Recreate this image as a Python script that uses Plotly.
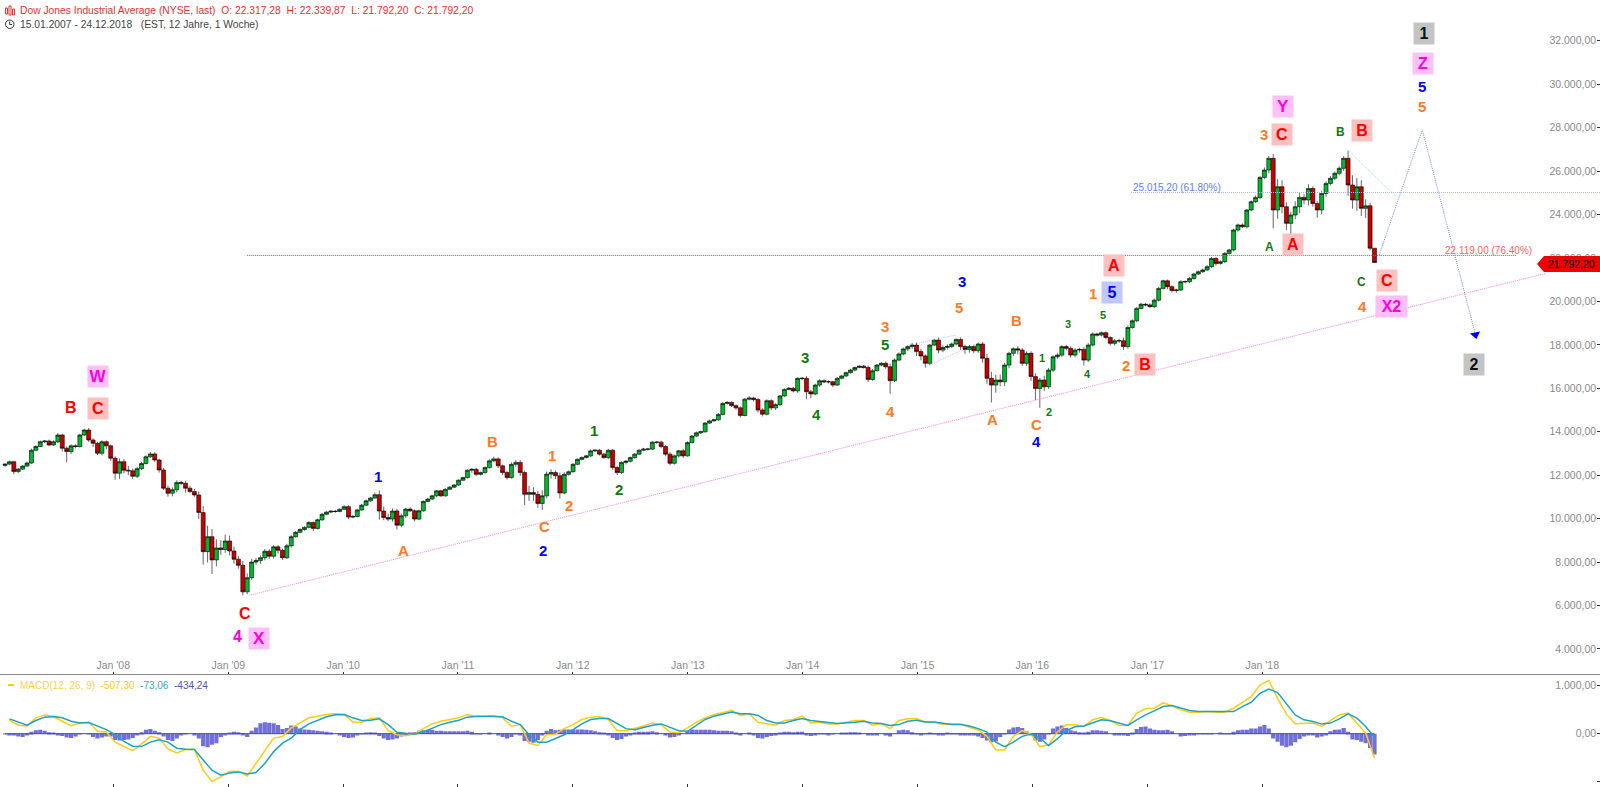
import pandas as pd
import plotly.graph_objects as go

# Dow Jones, one row per year, one candle every two weeks
closes = [
    12510,12620,12165,12280,12420,12560,13150,13320,13540,13570,13390,13540,13850,13240,13090,13350,13320,13850,14080,13620,13470,13010,13540,13350,12780,12090,
    12620,12230,12200,11950,12300,12540,12850,12980,12700,12240,11400,11170,11330,11660,11630,11400,11250,11090,10280,8480,9170,8100,8650,8580,8970,8510,
    8130,7850,6630,7280,8000,8070,8200,8500,8270,8700,8540,8200,8750,9170,9370,9500,9600,9820,9550,9950,10200,10300,10340,10330,10430,10550,
    10070,10100,10400,10620,10820,10950,11100,10350,10050,9980,10350,9700,10130,10440,10360,9980,10360,10790,10900,11050,11280,11050,11350,11450,11550,11770,
    11890,12230,12270,12040,12120,12350,12660,12750,12430,12120,11890,12500,12590,12120,11120,11200,11120,10700,11050,12050,12120,11970,11180,12040,12160,12500,
    12730,12810,12890,13120,13150,12970,12810,13150,12350,12120,12590,12640,12810,12970,13150,13200,13200,13520,13520,13320,12970,12550,12890,13120,12890,13500,
    13800,13950,14000,14400,14500,14550,14800,15300,15350,15200,15100,14750,15500,15550,15480,15000,14810,15430,15100,15250,15650,15950,16000,15880,16460,16460,
    15840,15740,16150,16350,16300,16300,16150,16460,16570,16720,16840,16960,17020,16960,16410,16810,17070,17150,16990,16350,17300,17580,17810,17920,17990,17690,
    17490,17150,17990,18220,17760,17880,17930,18040,18250,17920,17790,17920,17730,18040,17380,16460,16150,16380,16300,17070,17610,17820,17760,17150,17610,16540,
    15990,16380,16070,16840,17450,17530,17920,17840,17530,17760,17790,17300,17990,18500,18450,18560,18340,18070,18190,18190,17920,18800,19110,19680,19870,19840,
    19760,20060,20600,20950,20680,20500,20525,20910,20910,21060,21260,21370,21450,21600,21980,21750,21830,22210,22370,23290,23520,23440,24210,24590,24790,25710,
    26050,26590,24210,25280,24360,23595,23980,24360,24790,24670,25200,24510,24210,24970,25435,25670,25900,26130,26590,25360,24670,25280,24285,24400,22450,21792,
]
# how far the wicks stick out of the body
upper_wicks = [
    40,50,30,50,40,60,70,60,60,50,70,60,90,60,90,70,80,60,60,90,80,70,70,60,60,90,
    150,120,200,100,80,70,70,90,80,60,100,120,110,100,90,120,110,120,160,300,500,350,400,350,300,250,
    200,150,200,200,150,120,100,100,90,90,80,80,90,70,60,60,50,60,50,50,60,40,50,60,50,70,
    60,70,50,60,60,50,100,200,200,180,120,100,100,60,80,70,50,50,60,50,40,50,50,40,40,40,
    40,50,50,60,50,60,70,100,70,60,80,90,100,100,100,300,250,150,250,120,150,100,150,100,60,60,
    40,50,40,60,50,60,50,60,60,70,50,60,50,50,40,60,60,60,50,70,60,90,60,50,100,60,
    50,60,50,50,60,50,60,70,60,50,60,70,60,80,60,70,80,60,60,60,40,50,60,70,50,50,
    100,80,60,70,50,60,50,60,50,50,60,40,40,60,90,70,50,60,90,150,80,70,70,70,100,120,
    120,80,60,60,120,90,100,70,50,90,100,80,90,70,90,200,300,250,250,100,80,70,120,100,90,100,
    150,100,200,100,70,80,60,80,100,80,80,100,90,70,60,60,60,60,80,90,150,90,70,60,60,50,
    70,70,60,50,60,60,60,60,50,60,60,60,60,70,60,60,60,60,50,60,60,70,50,60,90,60,
    120,100,200,350,300,200,150,250,200,150,200,100,100,100,80,100,80,100,100,350,450,400,300,300,150,0,
]
lower_wicks = [
    60,40,120,60,40,50,40,50,30,60,50,40,60,150,500,120,80,50,50,90,180,90,100,150,120,300,
    260,150,200,120,80,60,50,60,90,120,80,160,140,120,90,200,70,80,300,600,500,650,300,250,150,200,
    200,150,160,100,100,120,150,120,120,100,150,100,60,80,50,50,60,50,120,50,60,50,50,60,40,40,
    90,60,50,40,40,50,40,400,120,100,120,200,100,90,60,110,50,40,40,40,60,50,40,30,40,40,
    40,50,120,80,60,50,40,60,100,110,90,50,100,150,500,300,300,200,300,120,200,150,250,70,60,40,
    40,50,40,60,50,70,60,70,100,110,60,100,60,50,40,50,60,40,70,80,100,90,60,80,100,40,
    40,50,60,40,50,40,50,50,40,60,90,100,40,60,90,120,100,60,110,100,70,40,50,70,90,90,
    350,200,60,90,70,80,100,40,50,50,40,60,40,60,120,60,40,60,90,600,60,60,60,90,100,200,
    200,200,80,50,150,100,100,80,60,150,200,150,120,100,200,250,800,350,200,200,150,120,200,120,120,200,
    530,890,200,100,100,90,80,100,120,100,120,250,90,60,70,60,90,100,100,100,150,100,60,70,50,60,
    60,60,70,50,120,90,100,60,80,70,60,50,60,50,60,100,60,60,50,70,80,60,80,60,60,80,
    80,150,850,400,300,300,500,200,300,200,250,150,350,200,150,100,80,100,120,500,400,500,350,450,100,0,
]
first_open = 12450

# MACD and signal, one value every four weeks
macd_line = [
    282,176,162,331,387,359,260,169,225,239,49,35,-176,
    -260,-352,-218,-56,-92,-317,-401,-331,-324,-760,-993,-901,-789,
    -781,-880,-620,-373,-92,-56,120,225,331,366,401,415,401,
    246,239,317,331,63,-21,-42,-7,106,204,260,296,331,
    401,352,359,380,331,155,190,-197,-246,-21,-7,106,190,
    296,345,359,296,63,63,106,162,225,190,35,21,120,
    239,331,401,436,486,380,415,239,211,176,275,296,366,
    225,239,204,204,239,275,275,176,211,106,275,310,317,
    239,239,190,204,204,134,77,-56,-338,-338,-56,63,-7,
    -268,-232,35,186,186,152,290,338,276,172,172,428,518,
    531,642,586,497,448,448,462,448,448,531,655,773,1014,
    1111,738,407,207,207,221,152,269,393,428,221,14,-507,
]
macd_signal = [
    310,239,176,275,345,359,331,260,225,232,155,84,-21,
    -162,-260,-268,-176,-127,-176,-303,-324,-331,-549,-760,-866,-817,
    -796,-838,-810,-620,-373,-197,-92,84,204,282,352,394,401,
    331,275,282,310,190,28,7,-7,35,120,190,239,282,
    345,366,366,366,352,260,190,-14,-176,-176,-91,-21,84,
    204,296,317,317,204,106,84,134,176,204,134,63,49,
    176,296,366,415,450,415,415,380,275,225,225,275,317,
    275,246,232,211,218,239,260,225,211,169,190,260,282,
    246,246,218,190,190,162,106,35,-176,-268,-176,-56,-7,
    -91,-246,-104,62,145,159,221,290,269,221,172,290,393,
    476,566,586,531,483,462,462,455,448,462,566,655,842,
    932,856,635,393,290,255,200,221,310,414,324,152,-73,
]
# histogram, one bar every two weeks
macd_hist = [
    -10,-20,-40,-60,-70,-20,40,70,80,60,30,10,-20,-50,-80,-90,-60,-10,0,-10,-70,-100,-80,-60,-60,-130,
    -140,-130,-120,-90,-30,30,80,100,60,30,-60,-130,-150,-100,-40,-10,0,-20,-100,-260,-280,-230,-200,-70,-20,20,
    40,30,-30,-70,60,130,220,240,230,220,180,100,120,170,150,110,90,80,70,60,50,40,20,0,-30,-70,
    -90,-80,-40,-10,20,30,10,-50,-100,-130,-120,-100,-60,-20,10,30,60,70,80,80,60,60,50,50,50,50,
    50,60,40,-10,-10,0,10,0,-30,-70,-100,-70,-10,-40,-150,-170,-190,-130,-30,60,100,70,80,90,90,90,
    90,90,80,70,50,30,10,-20,-90,-130,-110,-60,-20,20,40,40,40,50,30,0,-40,-80,-70,-40,0,60,
    90,80,80,80,80,70,60,60,60,50,10,-30,0,10,-40,-90,-100,-70,-50,-30,10,40,40,30,40,40,
    -30,-50,-20,-10,-10,-20,-10,0,20,20,30,30,10,0,-30,-40,-20,0,-30,-60,0,70,80,70,30,-10,
    -30,-10,10,-10,-20,-20,10,-10,-10,-20,-30,-40,-40,-60,-90,-140,-180,-160,-70,-10,90,130,140,120,50,-40,
    -140,-170,-120,-10,110,150,170,120,70,50,30,10,40,70,70,60,50,0,-20,-30,-40,-50,10,100,140,150,
    110,80,70,70,80,50,0,-60,-50,-30,-20,-10,-10,-5,-5,0,10,-10,-10,40,70,80,80,110,110,150,
    180,110,-100,-170,-250,-280,-250,-180,-110,-60,-30,-40,-80,-60,-20,50,80,90,120,40,-120,-130,-170,-200,-300,-434,
]

year_ticks = ["2008-01-01","2009-01-01","2010-01-01","2011-01-01","2012-01-01","2013-01-01","2014-01-01","2015-01-01","2016-01-01","2017-01-01","2018-01-01"]
year_labels = ["Jan '08","Jan '09","Jan '10","Jan '11","Jan '12","Jan '13","Jan '14","Jan '15","Jan '16","Jan '17","Jan '18"]

# drawn tools on the chart
trend_dates = ["2009-03-09", "2020-06-20"]
trend_prices = [6470, 21288]
fib_618 = 25015.20
fib_764 = 22119.00
forecast_dates = ["2019-01-08", "2019-05-25", "2019-11-10"]
forecast_prices = [22134, 27900, 18470]
channel_up_dates = ["2014-12-25", "2015-05-03"]
channel_up_prices = [18040, 18455]
channel_low_dates = ["2015-01-30", "2015-05-22"]
channel_low_prices = [16995, 17760]
fan_dates = ["2018-10-05", "2019-03-03"]
fan_prices = [26894, 24822]

RED, ORANGE, GREEN, BLUE, PINK, BLACK = "#ff0000", "#ff7a22", "#107a10", "#0000ff", "#ff00e0", "#111111"
RED_BG, PINK_BG, BLUE_BG, GREY_BG = "#ffc0c0", "#ffc0f8", "#c0c8ff", "#c4c4c4"

# wave labels: x, y in pixels of the 1568 wide view, text, colour, box, size
wave_labels = [
    (96,369,"W",PINK,PINK_BG,17),(96,400,"C",RED,RED_BG,16),(70,399,"B",RED,None,16),
    (240,601,"C",RED,None,16),(233,624,"4",PINK,None,16),(254,626,"X",PINK,PINK_BG,17),
    (370,467,"1",BLUE,None,15),(395,539,"A",ORANGE,None,15),(483,433,"B",ORANGE,None,15),
    (541,446,"1",ORANGE,None,15),(558,495,"2",ORANGE,None,15),(534,516,"C",ORANGE,None,15),
    (532,539,"2",BLUE,None,15),(582,422,"1",GREEN,None,15),(607,480,"2",GREEN,None,15),
    (789,350,"3",GREEN,None,15),(800,406,"4",GREEN,None,15),(867,320,"3",ORANGE,None,15),
    (867,338,"5",GREEN,None,15),(873,403,"4",ORANGE,None,15),(943,276,"3",BLUE,None,15),
    (940,301,"5",ORANGE,None,15),(996,314,"B",ORANGE,None,15),(973,411,"A",ORANGE,None,15),
    (1016,416,"C",ORANGE,None,15),(1016,433,"4",BLUE,None,15),(1021,351,"1",GREEN,None,11),
    (1028,404,"2",GREEN,None,11),(1047,318,"3",GREEN,None,11),(1066,367,"4",GREEN,None,11),
    (1081,309,"5",GREEN,None,11),(1071,288,"1",ORANGE,None,15),(1090,287,"5",BLUE,BLUE_BG,16),
    (1092,260,"A",RED,RED_BG,16),(1103,358,"2",ORANGE,None,15),(1122,357,"B",RED,RED_BG,16),
    (1239,132,"3",ORANGE,None,15),(1256,132,"C",RED,RED_BG,16),(1257,104,"Y",PINK,PINK_BG,17),
    (1244,242,"A",GREEN,None,12),(1267,240,"A",RED,RED_BG,16),(1314,129,"B",GREEN,None,12),
    (1335,128,"B",RED,RED_BG,16),(1334,276,"C",GREEN,None,12),(1359,275,"C",RED,RED_BG,16),
    (1335,300,"4",ORANGE,None,15),(1364,300,"X2",PINK,PINK_BG,16),(1396,33,"1",BLACK,GREY_BG,16),
    (1395,62,"Z",PINK,PINK_BG,16),(1394,85,"5",BLUE,None,15),(1394,104,"5",ORANGE,None,15),
    (1445,357,"2",BLACK,GREY_BG,16),
]

W, H = 1600, 787
SPLIT = 673.5
VIEW = 1600 / 1568


def px(x):
    return x / W


def py(y):
    return 1 - y / H


dates = pd.date_range("2007-01-22", "2018-12-24", freq="2W-MON")
assert len(dates) == len(closes) == len(upper_wicks) == len(lower_wicks) == len(macd_hist)
assert len(macd_line) == len(macd_signal) == len(dates[1::2])

# weekly bars open about where the last one closed
opens = [first_open] + closes[:-1]
highs = [max(o, c) + u for o, c, u in zip(opens, closes, upper_wicks)]
lows = [min(o, c) - l for o, c, l in zip(opens, closes, lower_wicks)]

fig = go.Figure()
fig.add_trace(go.Candlestick(
    x=dates, open=opens, high=highs, low=lows, close=closes,
    increasing=dict(fillcolor="#00b82e", line=dict(color="#000000", width=0.6)),
    decreasing=dict(fillcolor="#c80000", line=dict(color="#000000", width=0.6)),
    whiskerwidth=0, xaxis="x", yaxis="y", showlegend=False,
))


def tool_line(x, y, color, width=1):
    fig.add_trace(go.Scatter(x=x, y=y, mode="lines", xaxis="x", yaxis="y", showlegend=False,
                             line=dict(color=color, width=width, dash="1px,1px")))


tool_line(trend_dates, trend_prices, "#ff80e8")
tool_line(["2009-03-01", "2020-03-20"], [fib_764, fib_764], "#ff4040")
tool_line(["2016-11-10", "2021-03-01"], [fib_618, fib_618], "#a8b8ff")
tool_line(forecast_dates, forecast_prices, "#7088ff")
tool_line(channel_up_dates, channel_up_prices, "#b8c4ff")
tool_line(channel_low_dates, channel_low_prices, "#b8c4ff")
tool_line(fan_dates, fan_prices, "#90ecd8")
fig.add_trace(go.Scatter(x=forecast_dates[-1:], y=forecast_prices[-1:], mode="markers", xaxis="x", yaxis="y",
                         showlegend=False,
                         marker=dict(symbol="triangle-down", size=9, color="#0000ff", angle=-12)))

fig.add_trace(go.Bar(x=dates, y=macd_hist, xaxis="x2", yaxis="y2", showlegend=False,
                     marker=dict(color="#7070d8", line=dict(width=0))))
fig.add_trace(go.Scatter(x=dates, y=[0] * len(dates), mode="lines", xaxis="x2", yaxis="y2", showlegend=False,
                         line=dict(color="#4444b0", width=1)))
fig.add_trace(go.Scatter(x=dates[1::2], y=macd_line, mode="lines", xaxis="x2", yaxis="y2", showlegend=False,
                         line=dict(color="#ffcc10", width=1.5)))
fig.add_trace(go.Scatter(x=dates[1::2], y=macd_signal, mode="lines", xaxis="x2", yaxis="y2", showlegend=False,
                         line=dict(color="#1ca3c4", width=1.5)))

annotations = []
for x, y, text, color, bg, size in wave_labels:
    label = dict(xref="paper", yref="paper", x=px(x * VIEW), y=py(y * VIEW), text=f"<b>{text}</b>",
                 xanchor="center", yanchor="middle",
                 showarrow=False, font=dict(family="Liberation Sans", size=size, color=color))
    if bg:
        label.update(bgcolor=bg, height=19, width=29 if text == "X2" else 18, align="center", valign="middle")
    annotations.append(label)


def note(x, y, text, color, size=10, xanchor="left"):
    annotations.append(dict(xref="paper", yref="paper", x=px(x), y=py(y), text=text, showarrow=False,
                            xanchor=xanchor, yanchor="middle",
                            font=dict(family="Liberation Sans", size=size, color=color)))


note(18, 11, "Dow Jones Industrial Average (NYSE, last)  O: 22.317,28  H: 22.339,87  L: 21.792,20  C: 21.792,20", "#e83030", 10.3)
note(18, 24.5, "15.01.2007 - 24.12.2018   (EST, 12 Jahre, 1 Woche)", "#444444", 10.3)
note(1131, 188, "25.015,20 (61.80%)", "#6080ff")
note(1443, 250, "22.119,00 (76.40%)", "#ff6060")
note(1597, 264, "21.792,20", "#000000", 10.5, "right")
note(18, 685, "MACD(12, 26, 9)  <span style='color:#ffc820'>-507,30</span>  <span style='color:#30a8cc'>-73,06</span>"
              "  <span style='color:#5050b0'>-434,24</span>", "#ffd050")

shapes = [
    # price tag
    dict(type="path", xref="paper", yref="paper", fillcolor="#ee0000", line=dict(width=0), layer="above",
         path=f"M {px(1537)} {py(264)} L {px(1544)} {py(256)} L {px(1600)} {py(256)} L {px(1600)} {py(272)} L {px(1544)} {py(272)} Z"),
    # clock icon
    dict(type="circle", xref="paper", yref="paper", x0=px(5.5), x1=px(14), y0=py(20), y1=py(28.5),
         line=dict(color="#333333", width=1)),
    dict(type="line", xref="paper", yref="paper", x0=px(9.7), x1=px(9.7), y0=py(21.5), y1=py(24.5),
         line=dict(color="#333333", width=1)),
    dict(type="line", xref="paper", yref="paper", x0=px(9.7), x1=px(12), y0=py(24.5), y1=py(24.5),
         line=dict(color="#333333", width=1)),
    # MACD legend dash
    dict(type="line", xref="paper", yref="paper", x0=px(8), x1=px(14), y0=py(685), y1=py(685),
         line=dict(color="#ffcc10", width=2)),
]
# little candle icon in the header
for cx, top, bottom in [(6.5, 8, 14), (10, 6, 15), (13.5, 9, 15)]:
    shapes.append(dict(type="rect", xref="paper", yref="paper", x0=px(cx - 1), x1=px(cx + 1), y0=py(top), y1=py(bottom),
                       line=dict(color="#e83030", width=1)))

axis_font = dict(family="Liberation Sans", size=10.5, color="#8a8a8a")
x_range = ["2007-01-06", "2020-12-10"]
fig.update_layout(
    width=W, height=H, margin=dict(l=0, r=0, t=0, b=0), autosize=False,
    paper_bgcolor="#ffffff", plot_bgcolor="#ffffff", separators=",.",
    showlegend=False, bargap=0.05, boxgap=0.05, boxgroupgap=0.05,
    annotations=annotations, shapes=shapes,
    xaxis=dict(domain=[0, 1], anchor="y", range=x_range, rangeslider=dict(visible=False),
               tickmode="array", tickvals=year_ticks, ticktext=year_labels, tickfont=axis_font,
               ticklabelposition="inside", ticks="inside", ticklen=2, tickcolor="#333333",
               showgrid=False, zeroline=False, showline=True, linecolor="#8a8a8a", linewidth=1),
    yaxis=dict(domain=[py(SPLIT), 1], anchor="x", side="right", range=[2870, 33878],
               tickmode="linear", tick0=4000, dtick=2000, tickformat=",.2f", tickfont=axis_font,
               ticklabelposition="inside", ticks="inside", ticklen=3, tickcolor="#333333",
               showgrid=False, zeroline=False),
    xaxis2=dict(domain=[0, 1], anchor="y2", range=x_range, tickmode="array", tickvals=year_ticks,
                showticklabels=False, ticks="inside", ticklen=3, tickcolor="#333333", showgrid=False, zeroline=False),
    yaxis2=dict(domain=[0, py(SPLIT)], anchor="x2", side="right", range=[-1111, 1255],
                tickmode="array", tickvals=[-1000, 0, 1000], tickformat=",.2f", tickfont=axis_font,
                ticklabelposition="inside", ticks="inside", ticklen=3, tickcolor="#333333",
                showgrid=False, zeroline=False),
)

# page margin off, the figure fills the window
fig.write_html("out.html", config={"displayModeBar": False},
               post_script="document.body.style.margin='0';")
